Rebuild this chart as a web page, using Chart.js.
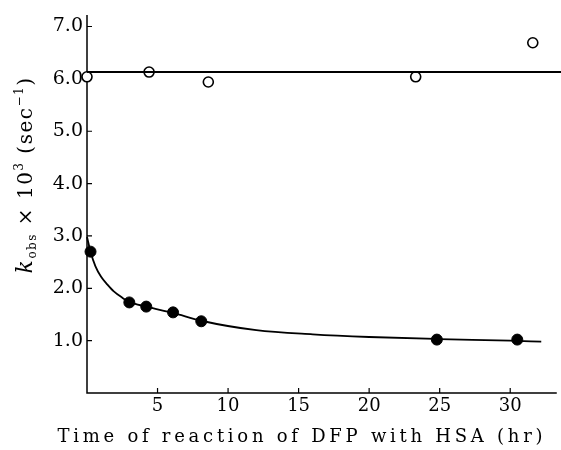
<!DOCTYPE html>
<html>
<head>
<meta charset="utf-8">
<script src="https://cdn.jsdelivr.net/npm/chart.js@4/dist/chart.umd.min.js"></script>
<style>
  html, body { margin: 0; background: #fff; }
  #wrap { width: 561px; height: 450px; }
</style>
</head>
<body>
<div id="wrap"><canvas id="chart" width="561" height="450"></canvas></div>
<script>
// ---------- data ----------
const openT   = [0, 4.4, 8.6, 23.3, 31.6];          // hr, open circles
const openK   = [6.04, 6.13, 5.94, 6.04, 6.69];
const flatT   = [0, 33.6];                          // horizontal fitted line
const flatK   = [6.13, 6.13];
const filledT = [0.25, 3.0, 4.2, 6.1, 8.1, 24.8, 30.5];
const filledK = [2.70, 1.73, 1.65, 1.54, 1.37, 1.02, 1.02];
const curveT  = [0, 0.25, 0.6, 1.0, 1.45, 1.9, 2.5, 3.0, 4.2, 6.1, 8.1, 12, 16, 20, 25, 30, 32.2];
const curveK  = [2.98, 2.70, 2.42, 2.22, 2.07, 1.94, 1.82, 1.74, 1.65, 1.53, 1.38, 1.2, 1.12, 1.07, 1.03, 1.0, 0.98];
const xTicks  = [5, 10, 15, 20, 25, 30];
const yTicks  = [1, 2, 3, 4, 5, 6, 7];
const xTitle  = 'Time of reaction of DFP with HSA (hr)';

const SERIF = '"DejaVu Serif", "Liberation Serif", serif';
const zip = (xs, ys) => xs.map((x, i) => ({ x, y: ys[i] }));

// axes, inward tick marks and the two axis titles
const axesPlugin = {
  id: 'axes',
  beforeDatasetsDraw(chart) {
    const { ctx, scales: { x, y } } = chart;
    const x0 = x.getPixelForValue(0), y0 = y.getPixelForValue(0);
    ctx.save();
    ctx.strokeStyle = '#000';
    ctx.lineWidth = 1.5;
    ctx.beginPath();
    ctx.moveTo(x0, y.getPixelForValue(7.22));
    ctx.lineTo(x0, y0);
    ctx.lineTo(x.getPixelForValue(33.3), y0);
    ctx.stroke();
    ctx.lineWidth = 1.2;
    ctx.beginPath();
    yTicks.forEach(v => { const p = y.getPixelForValue(v); ctx.moveTo(x0, p); ctx.lineTo(x0 + 5, p); });
    xTicks.forEach(v => { const p = x.getPixelForValue(v); ctx.moveTo(p, y0); ctx.lineTo(p, y0 - 5); });
    ctx.stroke();
    ctx.restore();
  },
  afterDraw(chart) {
    const { ctx } = chart;
    ctx.save();
    ctx.fillStyle = '#000';
    ctx.textBaseline = 'alphabetic';

    // x title, spread out like the printed figure
    ctx.font = '18px ' + SERIF;
    ctx.letterSpacing = '0px';
    const plain = ctx.measureText(xTitle).width;
    const spacing = (485 - plain) / (xTitle.length - 1);
    ctx.letterSpacing = spacing + 'px';
    ctx.textAlign = 'left';
    ctx.fillText(xTitle, 300 - 485 / 2, 442);

    // y title: k_obs x 10^3 (sec^-1), rotated
    const parts = [
      { t: 'k',     f: 'italic 22px ' + SERIF, dy: 0 },
      { t: 'obs',   f: '12px ' + SERIF,        dy: 4 },
      { t: ' × 10', f: '20px ' + SERIF,        dy: 0 },
      { t: '3',     f: '12px ' + SERIF,        dy: -9 },
      { t: ' (sec', f: '20px ' + SERIF,        dy: 0 },
      { t: '−1',    f: '12px ' + SERIF,        dy: -9 },
      { t: ')',     f: '20px ' + SERIF,        dy: 0 }
    ];
    ctx.letterSpacing = '1.5px';
    let total = 0;
    parts.forEach(p => { ctx.font = p.f; p.w = ctx.measureText(p.t).width; total += p.w; });
    ctx.translate(32, 175);
    ctx.rotate(-Math.PI / 2);
    let cx = -total / 2;
    parts.forEach(p => { ctx.font = p.f; ctx.fillText(p.t, cx, p.dy); cx += p.w; });
    ctx.restore();
  }
};

const ctx = document.getElementById('chart').getContext('2d');
new Chart(ctx, {
  type: 'scatter',
  data: {
    datasets: [
      { data: zip(flatT, flatK), showLine: true, borderColor: '#000', borderWidth: 2,
        pointRadius: 0, clip: false },
      { data: zip(curveT, curveK), showLine: true, borderColor: '#000', borderWidth: 1.8,
        pointRadius: 0, cubicInterpolationMode: 'monotone', clip: false },
      { data: zip(openT, openK), pointRadius: 5, pointBackgroundColor: '#fff',
        pointBorderColor: '#000', pointBorderWidth: 1.6, clip: false },
      { data: zip(filledT, filledK), pointRadius: 5.5, pointBackgroundColor: '#000',
        pointBorderColor: '#000', pointBorderWidth: 1, clip: false }
    ]
  },
  options: {
    responsive: false,
    animation: false,
    events: [],
    layout: { autoPadding: false, padding: { top: 15, right: 0, left: 0, bottom: 0 } },
    plugins: { legend: { display: false }, tooltip: { enabled: false } },
    scales: {
      x: {
        type: 'linear', min: 0, max: 33.6,
        grid: { display: false, drawTicks: false },
        border: { display: false },
        afterBuildTicks: s => { s.ticks = xTicks.map(v => ({ value: v })); },
        afterFit: s => { s.height = 57; s.paddingLeft = 0; s.paddingRight = 0; },
        ticks: { color: '#000', padding: 3, font: { family: SERIF, size: 18 },
                 callback: v => String(v) }
      },
      y: {
        type: 'linear', min: 0, max: 7.22,
        grid: { display: false, drawTicks: false },
        border: { display: false },
        afterBuildTicks: s => { s.ticks = yTicks.map(v => ({ value: v })); },
        afterFit: s => { s.width = 87; s.paddingTop = 0; s.paddingBottom = 0; },
        ticks: { color: '#000', padding: 4, font: { family: SERIF, size: 19 },
                 callback: v => Number(v).toFixed(1) }
      }
    }
  },
  plugins: [axesPlugin]
});
</script>
</body>
</html>
